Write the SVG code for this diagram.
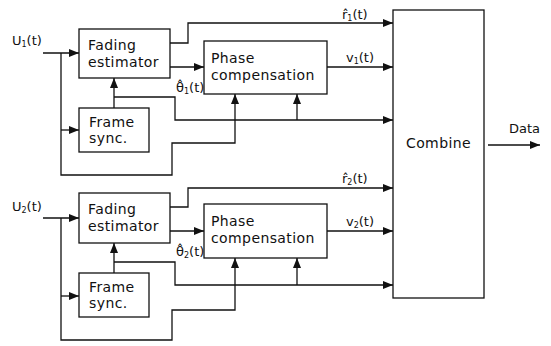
<svg xmlns="http://www.w3.org/2000/svg" width="551" height="346" viewBox="0 0 551 346">
<style>
.box{fill:#fff;stroke:#111;stroke-width:1.3}
.ln{fill:none;stroke:#111;stroke-width:1.3}
text{font-family:"DejaVu Sans","Liberation Sans",sans-serif;font-size:14px;letter-spacing:0.4px;fill:#111}
.lbl{font-size:13px;letter-spacing:0}
.sub{font-size:8px}
</style>
<defs>
<marker id="ah" markerUnits="userSpaceOnUse" markerWidth="10" markerHeight="8" refX="10" refY="4" orient="auto">
<path d="M0,0 L10,4 L0,8 z" fill="#111"/>
</marker>
</defs>
<rect width="551" height="346" fill="#fff"/>
<g id="connectors">
<path class="ln" d="M43,53 H79" marker-end="url(#ah)"/>
<path class="ln" d="M61,53 V175 H172 V143 H235 V94" marker-end="url(#ah)"/>
<path class="ln" d="M61,130 H79" marker-end="url(#ah)"/>
<path class="ln" d="M114,108 V78" marker-end="url(#ah)"/>
<path class="ln" d="M114,97 H175 V120 H393" marker-end="url(#ah)"/>
<path class="ln" d="M297,120 V94" marker-end="url(#ah)"/>
<path class="ln" d="M170,43 H188 V23 H393" marker-end="url(#ah)"/>
<path class="ln" d="M170,67 H204" marker-end="url(#ah)"/>
<path class="ln" d="M327,67 H393" marker-end="url(#ah)"/>
<path class="ln" d="M43,218 H79" marker-end="url(#ah)"/>
<path class="ln" d="M61,218 V340 H172 V310 H235 V258" marker-end="url(#ah)"/>
<path class="ln" d="M61,296 H79" marker-end="url(#ah)"/>
<path class="ln" d="M114,273 V243" marker-end="url(#ah)"/>
<path class="ln" d="M114,262 H175 V285 H393" marker-end="url(#ah)"/>
<path class="ln" d="M297,285 V258" marker-end="url(#ah)"/>
<path class="ln" d="M170,207 H188 V188 H393" marker-end="url(#ah)"/>
<path class="ln" d="M170,231 H204" marker-end="url(#ah)"/>
<path class="ln" d="M327,231 H393" marker-end="url(#ah)"/>
<path class="ln" d="M488,145 H540" marker-end="url(#ah)"/>
</g>
<g id="labels">
<text class="lbl" x="12" y="45">U<tspan class="sub" dy="2">1</tspan><tspan dy="-2">(t)</tspan></text>
<text class="lbl" x="12" y="211">U<tspan class="sub" dy="2">2</tspan><tspan dy="-2">(t)</tspan></text>
<text class="lbl" x="176" y="92">θ̂<tspan class="sub" dy="2">1</tspan><tspan dy="-2">(t)</tspan></text>
<text class="lbl" x="176" y="256">θ̂<tspan class="sub" dy="2">2</tspan><tspan dy="-2">(t)</tspan></text>
<text class="lbl" x="342" y="19">r̂<tspan class="sub" dy="2">1</tspan><tspan dy="-2">(t)</tspan></text>
<text class="lbl" x="342" y="183">r̂<tspan class="sub" dy="2">2</tspan><tspan dy="-2">(t)</tspan></text>
<text class="lbl" x="346" y="62">v<tspan class="sub" dy="2">1</tspan><tspan dy="-2">(t)</tspan></text>
<text class="lbl" x="346" y="226">v<tspan class="sub" dy="2">2</tspan><tspan dy="-2">(t)</tspan></text>
<text class="lbl" x="509" y="133">Data</text>
</g>
<g id="fading1"><rect class="box" x="79" y="29" width="91" height="49"/><text x="88" y="50">Fading</text><text x="88" y="67">estimator</text></g>
<g id="frame1"><rect class="box" x="79" y="108" width="70" height="44"/><text x="89" y="127">Frame</text><text x="89" y="143">sync.</text></g>
<g id="phase1"><rect class="box" x="204" y="41" width="123" height="53"/><text x="211" y="63">Phase</text><text x="211" y="80">compensation</text></g>
<g id="fading2"><rect class="box" x="79" y="193" width="91" height="50"/><text x="88" y="214">Fading</text><text x="88" y="231">estimator</text></g>
<g id="frame2"><rect class="box" x="79" y="273" width="70" height="44"/><text x="89" y="292">Frame</text><text x="89" y="308">sync.</text></g>
<g id="phase2"><rect class="box" x="204" y="204" width="123" height="54"/><text x="211" y="226">Phase</text><text x="211" y="243">compensation</text></g>
<g id="combine"><rect class="box" x="393" y="10" width="91" height="288"/><text x="438.5" y="148" text-anchor="middle">Combine</text></g>
</svg>
